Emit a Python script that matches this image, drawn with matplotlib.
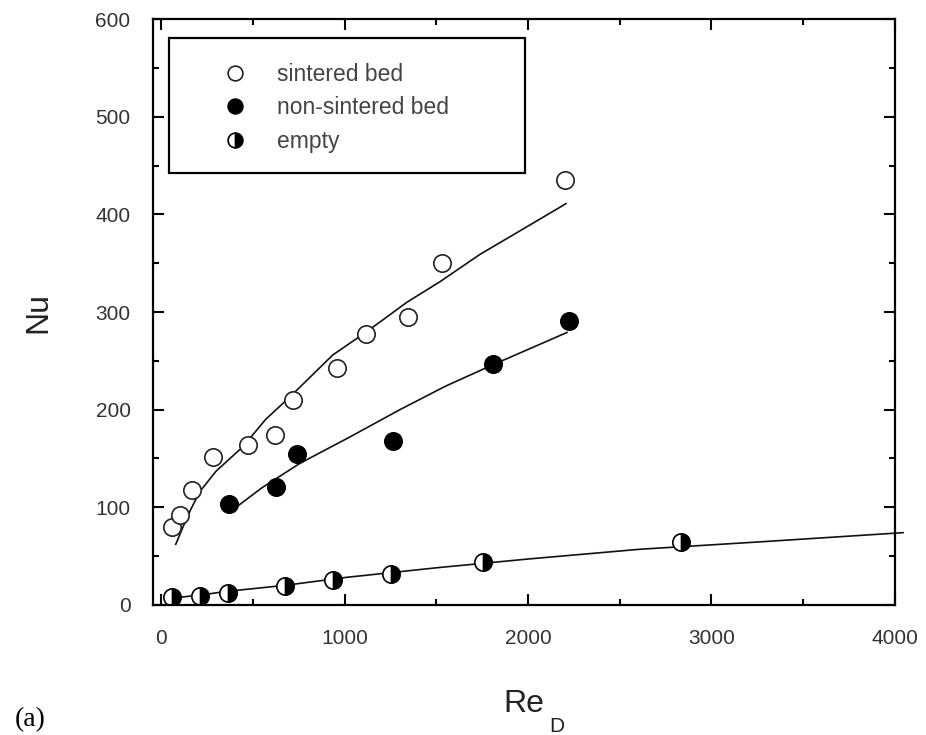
import matplotlib.pyplot as plt
from matplotlib.patches import Rectangle

# measured points
re_sint = [59, 102, 168, 282, 473, 620, 718, 958, 1116, 1345, 1531, 2201]
nu_sint = [80, 92, 118, 151, 164, 174, 210, 243, 277, 295, 350, 435]

re_nons = [369, 626, 740, 1264, 1809, 2223]
nu_nons = [103, 121, 155, 168, 247, 291]

re_empty = [59, 211, 364, 675, 936, 1253, 1754, 2834]
nu_empty = [8, 9, 12, 19, 26, 32, 44, 64]

# correlation curves
re_sint_fit = [80, 120, 160, 211, 300, 446, 570, 702, 936, 1122, 1340, 1520, 1738, 2000, 2207]
nu_sint_fit = [62, 80, 97, 116, 137, 162, 190, 213, 256, 280, 310, 331, 359, 388, 411]

re_nons_fit = [402, 550, 757, 1029, 1302, 1550, 1809, 2212]
nu_nons_fit = [99, 120, 145, 172, 200, 224, 246, 279]

re_empty_fit = [59, 211, 364, 675, 1000, 1500, 2000, 2610, 3300, 4044]
nu_empty_fit = [7, 10, 14, 20, 28, 38, 47, 57, 65, 74]

labels = ['sintered bed', 'non-sintered bed', 'empty']

if __name__ == "__main__":
    plt.rcParams['font.family'] = ['Liberation Sans', 'DejaVu Sans']

    fig = plt.figure(figsize=(9.26, 7.35), dpi=100)
    ax = fig.add_axes([0.165, 0.177, 0.8015, 0.797])

    ms = 12.5
    ax.plot(re_sint_fit, nu_sint_fit, color='#111111', lw=1.2)
    ax.plot(re_nons_fit, nu_nons_fit, color='#111111', lw=1.2)
    ax.plot(re_empty_fit, nu_empty_fit, color='#111111', lw=1.2, clip_on=False)

    h1, = ax.plot(re_sint, nu_sint, 'o', ms=ms, mfc='white', mec='#222222', mew=1.2,
                  label=labels[0])
    h2, = ax.plot(re_nons, nu_nons, 'o', ms=ms, mfc='black', mec='black', mew=1.2,
                  label=labels[1])
    h3, = ax.plot(re_empty, nu_empty, 'o', ms=ms, fillstyle='right', mfc='black',
                  mfcalt='white', mec='black', mew=1.2, label=labels[2])

    ax.set_xlim(-45, 4000)
    ax.set_ylim(0, 600)
    ax.set_xticks([0, 1000, 2000, 3000, 4000])
    ax.set_xticks(range(500, 4000, 1000), minor=True)
    ax.set_yticks(range(0, 601, 100))
    ax.set_yticks(range(50, 600, 100), minor=True)

    ax.tick_params(which='both', direction='in', top=True, right=True,
                   labelsize=15, labelcolor='#333333', width=1.5)
    ax.tick_params(which='major', length=8)
    ax.tick_params(which='minor', length=4.5)
    ax.tick_params(axis='x', pad=17)
    ax.tick_params(axis='y', pad=16)
    for s in ax.spines.values():
        s.set_linewidth(1.6)

    ax.set_ylabel('Nu', fontsize=23, labelpad=30, color='#222222')
    ax.set_xlabel('Re', fontsize=23, labelpad=30, color='#222222')
    fig.text(0.593, 0.004, 'D', fontsize=15, color='#222222')
    fig.text(0.016, 0.012, '(a)', fontsize=20, family='Liberation Serif')

    # legend with its own frame
    leg = ax.legend(handles=[h1, h2, h3], loc='upper left', bbox_to_anchor=(0.052, 0.96),
                    frameon=False, fontsize=16.5, labelspacing=0.45, handletextpad=0.85,
                    markerscale=0.85, labelcolor='#444444')
    ax.add_patch(Rectangle((0.0215, 0.738), 0.48, 0.23, transform=ax.transAxes,
                           fill=False, lw=1.6, ec='black', zorder=5))

    plt.savefig('out.png', dpi=100)
